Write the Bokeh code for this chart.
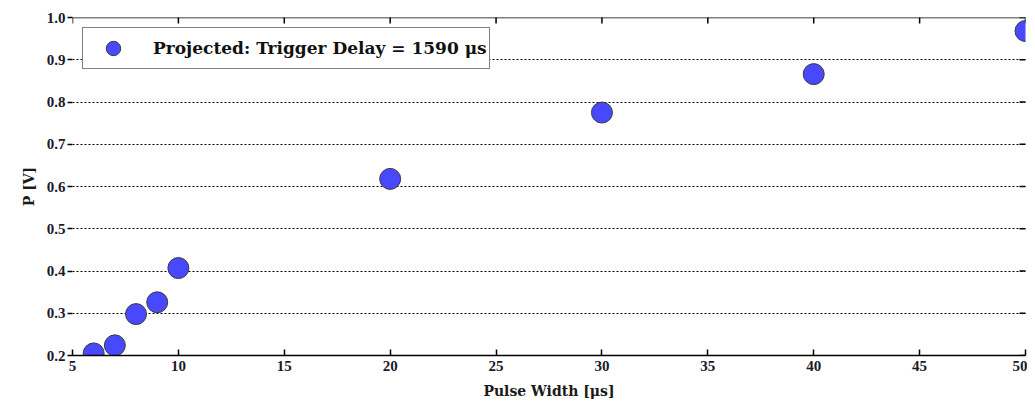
import math
from bokeh.plotting import figure
from bokeh.models import Legend, LegendItem, Range1d, FixedTicker, CustomJSTickFormatter, Span
from bokeh.embed import file_html
from bokeh.resources import INLINE

pulse_width = [6, 7, 8, 9, 10, 20, 30, 40, 50]
p_volts = [0.205, 0.224, 0.298, 0.326, 0.407, 0.618, 0.775, 0.866, 0.968]
x_ticks = [5, 10, 15, 20, 25, 30, 35, 40, 45, 50]
y_ticks = [0.2, 0.3, 0.4, 0.5, 0.6, 0.7, 0.8, 0.9, 1.0]
series_label = "Projected: Trigger Delay = 1590 μs"

X_MIN, X_MAX = x_ticks[0], x_ticks[-1]
Y_MIN, Y_MAX = y_ticks[0], y_ticks[-1]

TICK_FONT = "Liberation Serif"
FONT = "DejaVu Serif"

p = figure(width=1027, height=404, output_backend="svg", toolbar_location=None,
           x_range=Range1d(X_MIN, X_MAX), y_range=Range1d(Y_MIN, Y_MAX),
           min_border_left=72, min_border_right=2, min_border_top=17, min_border_bottom=49,
           x_axis_label="Pulse Width [μs]", y_axis_label="P [V]")
p.outline_line_color = None
p.background_fill_color = "white"
p.border_fill_color = "white"

p.xgrid.grid_line_color = None
p.ygrid.ticker = FixedTicker(ticks=y_ticks[1:-1])
p.ygrid.grid_line_color = "black"
p.ygrid.grid_line_dash = "2 2"
p.ygrid.grid_line_width = 1

# top spine and inward ticks on top / right
p.add_layout(Span(location=Y_MAX, dimension="width", line_color="black", line_width=1.5))
p.scatter(x_ticks, [Y_MAX] * len(x_ticks), marker="dash", angle=math.pi / 2, size=12,
          line_color="black", line_width=1.5)
p.scatter([X_MAX] * len(y_ticks), y_ticks, marker="dash", size=12,
          line_color="black", line_width=1.5)

r = p.scatter(pulse_width, p_volts, size=21, fill_color="#4848ff", line_color="#3a3a3a",
              line_width=1)

# axes
xa = p.xaxis[0]
xa.ticker = FixedTicker(ticks=x_ticks)
xa.major_tick_in = 6
xa.major_tick_out = 0
xa.minor_tick_line_color = None
xa.axis_line_color = "black"
xa.axis_line_width = 1.5
xa.major_tick_line_width = 1.5
xa.major_label_standoff = 5
ya = p.yaxis[0]
ya.ticker = FixedTicker(ticks=y_ticks)
ya.formatter = CustomJSTickFormatter(code="return tick.toFixed(1);")
ya.major_tick_in = 0
ya.major_tick_out = 5
ya.minor_tick_line_color = None
ya.axis_line_color = None
ya.major_tick_line_width = 1.5
ya.major_label_standoff = 2
for ax in (xa, ya):
    ax.major_label_text_font = TICK_FONT
    ax.major_label_text_font_style = "bold"
    ax.major_label_text_font_size = "15px"
    ax.major_label_text_color = "#1a1a2a"
    ax.axis_label_text_font = FONT
    ax.axis_label_text_font_style = "bold"
    ax.axis_label_text_font_size = "14px"
    ax.axis_label_text_color = "#1a1a1a"
xa.axis_label_standoff = 9
ya.axis_label_standoff = 7

legend = Legend(items=[LegendItem(label=series_label, renderers=[r])],
                location="top_left", margin=10, padding=2, spacing=0,
                glyph_width=56, glyph_height=36, label_standoff=12,
                label_text_font=FONT, label_text_font_style="bold",
                label_text_font_size="17px", label_text_color="#111111",
                border_line_color="black", border_line_width=1.2,
                background_fill_alpha=1.0)
p.add_layout(legend)

open("out.html", "w").write(file_html(p, INLINE))
